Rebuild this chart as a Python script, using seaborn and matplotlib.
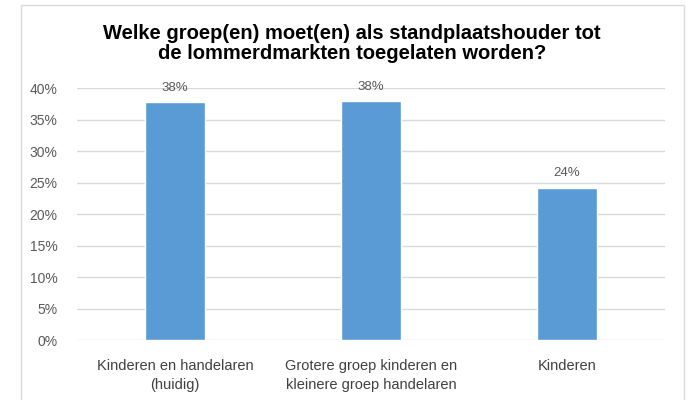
import matplotlib.pyplot as plt
import matplotlib.ticker as mtick
import pandas as pd
import seaborn as sns
from matplotlib.patches import Rectangle

categories = [
    "Kinderen en handelaren\n(huidig)",
    "Grotere groep kinderen en\nkleinere groep handelaren",
    "Kinderen",
]
values = [0.378, 0.380, 0.242]
labels = ["38%", "38%", "24%"]
title = "Welke groep(en) moet(en) als standplaatshouder tot\nde lommerdmarkten toegelaten worden?"

bar_color = "#5B9BD5"
text_color = "#595959"
grid_color = "#D9D9D9"

sns.set_theme(style="white")
plt.rcParams["font.family"] = ["Liberation Sans", "DejaVu Sans"]

df = pd.DataFrame({"groep": categories, "aandeel": values})

fig = plt.figure(figsize=(6.87, 4.0), dpi=100)
ax = fig.add_axes([0.112, 0.15, 0.856, 0.629])

sns.barplot(data=df, x="groep", y="aandeel", color=bar_color, saturation=1,
            width=0.31, ax=ax)

ax.set_ylim(0, 0.40)
ax.set_yticks([i * 0.05 for i in range(9)])
ax.yaxis.set_major_formatter(mtick.PercentFormatter(1.0, decimals=0))
ax.grid(axis="y", color=grid_color, linewidth=1)
ax.set_axisbelow(True)
for s in ax.spines.values():
    s.set_visible(False)
ax.tick_params(axis="both", length=0, colors=text_color)
ax.tick_params(axis="x", pad=14, labelsize=10.5)
ax.tick_params(axis="y", pad=14, labelsize=10)
for t in ax.get_xticklabels():
    t.set_linespacing(1.45)
    t.set_color("#404040")
ax.set_xlabel("")
ax.set_ylabel("")

ax.bar_label(ax.containers[0], labels=labels, padding=6, color=text_color,
             fontsize=9.5)

fig.text(0.512, 0.891, title, ha="center", va="center", fontsize=14.5,
         fontweight="bold", color="black", linespacing=1.1)

fig.patches.append(Rectangle((21 / 687, -0.1), 663 / 687, 1.1 - 5 / 400,
                             transform=fig.transFigure, fill=False,
                             edgecolor=grid_color, linewidth=1))

fig.savefig("out.png", dpi=100, facecolor="white")
